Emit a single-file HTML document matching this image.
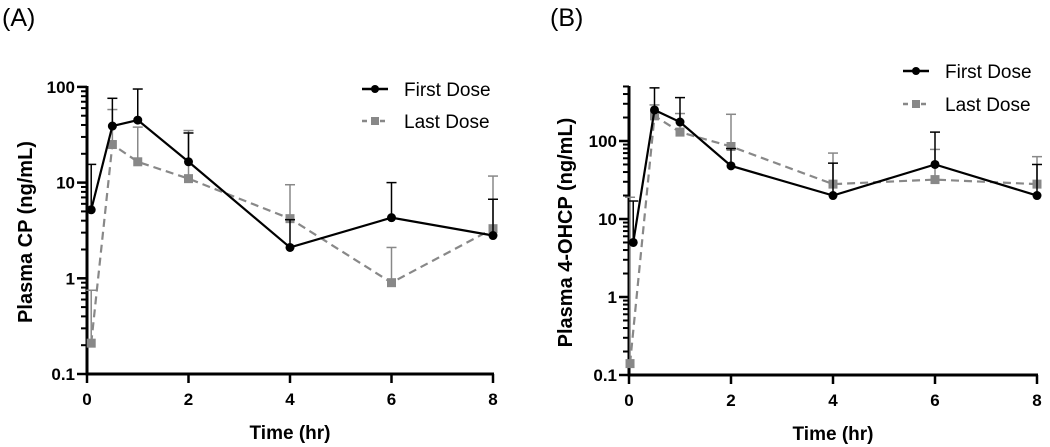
<!DOCTYPE html>
<html><head><meta charset="utf-8"><style>
html,body{margin:0;padding:0;background:#fff}
svg{display:block;font-family:"Liberation Sans",Arial,sans-serif}
</style></head><body>
<svg id="fig" width="1050" height="447" viewBox="0 0 1050 447"></svg>
<script>
const timesFirst = [0.083, 0.5, 1, 2, 4, 6, 8];
const timesLastA = [0.083, 0.5, 1, 2, 4, 6, 8];
const timesLastB = [0.02, 0.5, 1, 2, 4, 6, 8];
const cpFirst = [5.2, 39, 45, 16.5, 2.1, 4.3, 2.8];
const cpFirstErr = [15.5, 76, 95, 33, 4.1, 10, 6.7];
const cpLast = [0.21, 25, 16.5, 11, 4.2, 0.9, 3.3];
const cpLastErr = [0.75, 58, 38, 35, 9.5, 2.1, 11.7];
const ohFirst = [5, 250, 175, 48, 20, 50, 20];
const ohFirstErr = [17, 480, 360, 80, 52, 130, 50];
const ohLast = [0.14, 210, 130, 85, 28, 32, 28];
const ohLastErr = [19, 290, 225, 220, 70, 78, 63];
const xTicks = [0, 2, 4, 6, 8];
const yTicksA = [0.1, 1, 10, 100];
const yTicksB = [0.1, 1, 10, 100];

const NS = "http://www.w3.org/2000/svg";
const svg = document.getElementById('fig');
function mk(tag, attrs, parent, text){
  const e = document.createElementNS(NS, tag);
  for (const k in attrs) e.setAttribute(k, attrs[k]);
  if (text !== undefined) e.textContent = text;
  (parent || svg).appendChild(e);
  return e;
}

function panel(cfg){
  const g = mk('g', {});
  
  
  const X = t => cfg.x0 + (cfg.x1 - cfg.x0) * t / 8;
  const Y = v => cfg.yB - (Math.log10(v) + 1) * cfg.dec;
  const yTop = cfg.yTopPx;
  for (let d = -1; d < 3; d++) {
    for (let m = 2; m <= 9; m++) {
      const v = m * Math.pow(10, d);
      const py = Y(v);
      if (py < yTop - 0.5) continue;
      const tk = mk('line', {x1: cfg.x0 - 6, x2: cfg.x0, y1: py, y2: py, stroke: '#000', 'stroke-width': 2}, g);
      
      
    }
  }
  cfg.yTicks.forEach(v => {
    const py = Y(v);
    const tk = mk('line', {x1: cfg.x0 - 10, x2: cfg.x0, y1: py, y2: py, stroke: '#000', 'stroke-width': 2.5}, g);
    
    
    const tl = mk('text', {x: cfg.x0 - 12, y: py + 6, 'text-anchor': 'end', 'font-size': 17, 'font-weight': 'bold'}, g, String(v));
    
    
  });
  xTicks.forEach(t => {
    const px = X(t);
    const tk = mk('line', {x1: px, x2: px, y1: cfg.yB, y2: cfg.yB + 9, stroke: '#000', 'stroke-width': 2.5}, g);
    
    
    const tl = mk('text', {x: px, y: cfg.yB + 31, 'text-anchor': 'middle', 'font-size': 17, 'font-weight': 'bold'}, g, String(t));
    
    
  });
  const ya = mk('line', {x1: cfg.x0, x2: cfg.x0, y1: yTop, y2: cfg.yB + 1.5, stroke: '#000', 'stroke-width': 3}, g);
  
  
  const xa = mk('line', {x1: cfg.x0 - 1.5, x2: cfg.x1 + 1, y1: cfg.yB, y2: cfg.yB, stroke: '#000', 'stroke-width': 3}, g);
  
  

  function series(ts, vals, errs, color, dash, marker, nm){
    errs.forEach((e, i) => {
      const px = X(ts[i]);
      const eb = mk('line', {x1: px, x2: px, y1: Y(vals[i]), y2: Y(e), stroke: color, 'stroke-width': 1.5}, g);
      
      
      const cap = mk('line', {x1: px - 5, x2: px + 5, y1: Y(e), y2: Y(e), stroke: color, 'stroke-width': 1.5}, g);
      
      
    });
    const pts = ts.map((t, i) => X(t) + ',' + Y(vals[i])).join(' ');
    const pl = mk('polyline', {points: pts, fill: 'none', stroke: color, 'stroke-width': 2.2, 'stroke-dasharray': dash}, g);
    
    
    vals.forEach((v, i) => {
      let m;
      if (marker === 'circle') m = mk('circle', {cx: X(ts[i]), cy: Y(v), r: 4.5, fill: color}, g);
      else m = mk('rect', {x: X(ts[i]) - 4.5, y: Y(v) - 4.5, width: 9, height: 9, fill: color}, g);
      
      
    });
  }
  series(cfg.tLast, cfg.last, cfg.lastErr, '#888', '8,5', 'square', 'last-dose');
  series(timesFirst, cfg.first, cfg.firstErr, '#000', 'none', 'circle', 'first-dose');

  const yt = mk('text', {x: 0, y: 0, transform: `translate(${cfg.titleX},${(yTop + cfg.yB) / 2 + 2}) rotate(-90)`, 'text-anchor': 'middle', 'font-size': 20, 'font-weight': 'bold'}, g, cfg.yTitle);
  
  
  const xt = mk('text', {x: (cfg.x0 + cfg.x1) / 2, y: cfg.yB + 65, 'text-anchor': 'middle', 'font-size': 19, 'font-weight': 'bold'}, g, 'Time (hr)');
  
  
  const pl = mk('text', {x: cfg.labelX, y: 26, 'font-size': 25}, g, cfg.label);
  
  

  const lg = mk('g', {}, g);
  
  
  const lx = cfg.legX, ly = cfg.legY, gap = cfg.legGap;
  const e1 = mk('g', {}, lg);
  
  
  mk('line', {x1: lx, x2: lx + 26, y1: ly, y2: ly, stroke: '#000', 'stroke-width': 2.5}, e1);
  mk('circle', {cx: lx + 13, cy: ly, r: 4, fill: '#000'}, e1);
  mk('text', {x: lx + 42, y: ly + 7, 'font-size': 19}, e1, 'First Dose');
  const e2 = mk('g', {}, lg);
  
  
  mk('line', {x1: lx, x2: lx + 26, y1: ly + gap, y2: ly + gap, stroke: '#888', 'stroke-width': 2.5, 'stroke-dasharray': '5,4'}, e2);
  mk('rect', {x: lx + 9, y: ly + gap - 4, width: 8, height: 8, fill: '#888'}, e2);
  mk('text', {x: lx + 42, y: ly + gap + 7, 'font-size': 19}, e2, 'Last Dose');
}

panel({name: 'panel-a', x0: 87, x1: 493, yB: 374, dec: 95.7, yTopPx: 86, yTicks: yTicksA,
  first: cpFirst, firstErr: cpFirstErr, last: cpLast, lastErr: cpLastErr, tLast: timesLastA,
  yTitle: 'Plasma CP (ng/mL)', titleX: 32, label: '(A)', labelX: 2, legX: 362, legY: 89, legGap: 32});
panel({name: 'panel-b', x0: 629, x1: 1037, yB: 375, dec: 78, yTopPx: 86, yTicks: yTicksB,
  first: ohFirst, firstErr: ohFirstErr, last: ohLast, lastErr: ohLastErr, tLast: timesLastB,
  yTitle: 'Plasma 4-OHCP (ng/mL)', titleX: 572, label: '(B)', labelX: 550, legX: 903, legY: 71, legGap: 33});
</script>
</body></html>
